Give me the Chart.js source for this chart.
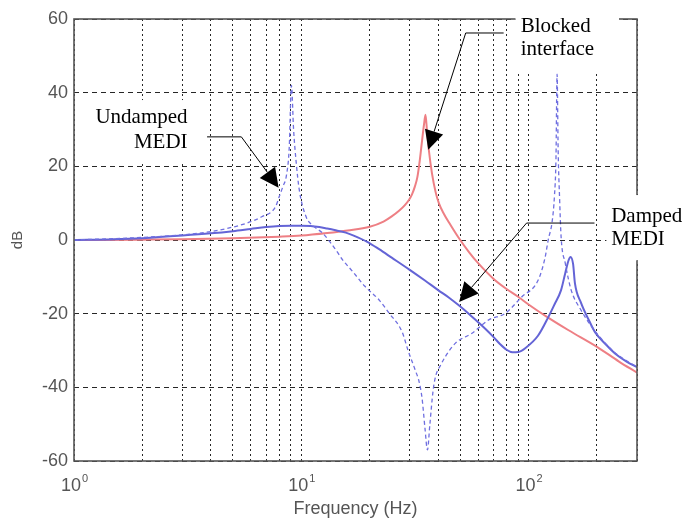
<!DOCTYPE html>
<html>
<head>
<meta charset="utf-8">
<script src="https://cdn.jsdelivr.net/npm/chart.js@4/dist/chart.umd.min.js"></script>
<style>
  html, body { margin: 0; padding: 0; background: #fff; }
  #wrap { width: 688px; height: 522px; }
</style>
</head>
<body>
<div id="wrap"><canvas id="chart" width="688" height="522"></canvas></div>
<script>
// ── Data (frequency in Hz, level in dB) ──
const blockedFreq = [1, 2, 3, 5, 8, 10, 13, 16, 20, 23, 25, 27, 28.5, 29.7, 30.7, 31.6, 32.4, 33.2, 34, 34.7, 35.2, 35.8, 36.4, 37.6, 39, 40.3, 42.5, 44.6, 49, 55, 60, 70, 80, 90, 100, 120, 150, 200, 250, 300];
const blockedDb   = [0, 0.1, 0.2, 0.5, 0.9, 1.2, 1.9, 2.6, 3.6, 5, 6.4, 8, 9.4, 10.8, 12.4, 14.5, 17, 21.5, 27, 31.5, 34, 29, 24.5, 18, 13, 10, 7, 4.8, 0.8, -3.5, -6.3, -10.5, -13.3, -15.4, -17.5, -20.8, -24.5, -29, -33, -36];

const dampedFreq = [1, 1.5, 2, 3, 4, 5, 6, 7, 8, 9, 10, 11, 12, 13, 14, 15.7, 17, 19.5, 22, 25, 30, 35, 40, 45, 49, 55, 60, 65, 70, 75, 80, 85, 90, 97, 110, 122, 130, 139, 145, 150, 153, 157, 160, 170, 185, 196, 220, 240, 270, 300];
const dampedDb   = [0, 0.2, 0.5, 1.2, 1.8, 2.4, 3, 3.5, 3.8, 3.9, 3.9, 3.8, 3.5, 3.1, 2.7, 2, 1.2, -0.5, -2.5, -4.8, -8.1, -11, -13.6, -15.8, -17.6, -20.2, -22.3, -24.3, -26.3, -28.3, -29.8, -30.5, -30.4, -29.3, -26, -21, -17.5, -13.6, -9, -5.5, -4.6, -6.5, -11.8, -17, -22, -25, -28.5, -30.8, -33, -34.5];

const undampedFreq = [1, 2, 3, 4, 5, 5.7, 6.7, 7.7, 8, 8.3, 8.6, 8.85, 9.05, 9.25, 9.5, 9.8, 10.5, 11.3, 12.4, 14.2, 15.2, 16.8, 19, 22, 24.3, 27.8, 29.5, 31.8, 33, 34, 35, 35.9, 36.8, 38, 39, 41, 43, 47.7, 56.4, 66.8, 79, 93.5, 110, 118, 122, 127, 130, 132, 133.5, 135, 137, 139, 145, 154, 170, 196, 240, 300];
const undampedDb   = [0, 0.7, 1.4, 2.3, 3.5, 4.5, 6.3, 9, 11.8, 14.5, 17.5, 25, 42, 30, 21, 13.6, 6.3, 3.8, 1.9, -2.7, -5.4, -8.5, -12.5, -16.3, -19.8, -25, -30, -35.5, -38.5, -43, -51, -57, -50, -41, -37, -34, -31.7, -28, -25.3, -21.7, -19.9, -15.4, -11, -5, 0, 5, 12, 22, 45, 24, 11, 1, -6.3, -13.6, -19, -24.7, -30.6, -34.5];

const freqTicks = [1, 2, 3, 4, 5, 6, 7, 8, 9, 10, 20, 30, 40, 50, 60, 70, 80, 90, 100, 200, 300];
const decadeTicks = [1, 10, 100];
const dbTicks = [-60, -40, -20, 0, 20, 40, 60];

// ── Annotations, placed in data coordinates (Hz, dB) ──
const notes = [
  {
    align: "right",
    lines: [["Undamped", 3.16, 31.8], ["MEDI", 3.16, 25.0]],
    box: [1.16, 38.0, 3.5, 21.2],
    path: [[3.85, 28.0], [5.45, 28.0], [7.95, 14.2]]
  },
  {
    align: "left",
    lines: [["Blocked", 92.3, 56.5], ["interface", 92.3, 50.2]],
    box: [87.6, 66.0, 250, 45.3],
    path: [[77.7, 56.2], [52.9, 56.2], [36.2, 24.5]]
  },
  {
    align: "left",
    lines: [["Damped", 231, 4.9], ["MEDI", 231, -1.4]],
    box: [220, 12.2, 600, -5.5],
    path: [[195, 4.6], [98, 4.6], [49.5, -16.8]]
  }
];

const toPts = (xs, ys) => xs.map((x, i) => ({ x, y: ys[i] }));

const axisFont = { family: "Arial, 'Liberation Sans', sans-serif", size: 18 };
const noteFont = "21px 'Liberation Serif', 'Times New Roman', serif";
const gridColor = "rgba(15,15,15,0.9)";

const overlay = {
  id: "overlay",
  afterDraw(chart) {
    const { ctx, chartArea: a } = chart;
    const xs = chart.scales.x, ys = chart.scales.y;
    const P = (f, db) => [xs.getPixelForValue(f), ys.getPixelForValue(db)];
    ctx.save();

    // axes box
    ctx.strokeStyle = "#555";
    ctx.lineWidth = 1.6;
    ctx.strokeRect(a.left, a.top, a.right - a.left, a.bottom - a.top);

    // decade tick labels 10^n
    ctx.fillStyle = "#555";
    ctx.textBaseline = "alphabetic";
    decadeTicks.forEach(v => {
      const cx = xs.getPixelForValue(v);
      const exp = String(Math.round(Math.log10(v)));
      ctx.font = "18px Arial, 'Liberation Sans', sans-serif";
      const wBase = ctx.measureText("10").width;
      ctx.font = "11px Arial, 'Liberation Sans', sans-serif";
      const wExp = ctx.measureText(exp).width;
      const x0 = cx - (wBase + wExp) / 2;
      ctx.font = "18px Arial, 'Liberation Sans', sans-serif";
      ctx.textAlign = "left";
      ctx.fillText("10", x0, a.bottom + 30);
      ctx.font = "11px Arial, 'Liberation Sans', sans-serif";
      ctx.fillText(exp, x0 + wBase + 1, a.bottom + 21);
    });

    // annotation boxes, leaders and arrows
    notes.forEach(n => {
      const [bx0, by0] = P(n.box[0], n.box[1]);
      const [bx1, by1] = P(n.box[2], n.box[3]);
      ctx.fillStyle = "#fff";
      ctx.fillRect(bx0, by0, bx1 - bx0, by1 - by0);

      ctx.fillStyle = "#000";
      ctx.font = noteFont;
      ctx.textAlign = n.align;
      n.lines.forEach(([t, f, db]) => {
        const [tx, ty] = P(f, db);
        ctx.fillText(t, tx, ty);
      });

      const pts = n.path.map(p => P(p[0], p[1]));
      const tip = pts[pts.length - 1];
      const prev = pts[pts.length - 2];
      const ang = Math.atan2(tip[1] - prev[1], tip[0] - prev[0]);
      const len = 19, half = 9.5;
      const bxm = tip[0] - len * Math.cos(ang), bym = tip[1] - len * Math.sin(ang);

      ctx.strokeStyle = "#000";
      ctx.lineWidth = 1;
      ctx.beginPath();
      ctx.moveTo(pts[0][0], pts[0][1]);
      for (let i = 1; i < pts.length - 1; i++) ctx.lineTo(pts[i][0], pts[i][1]);
      ctx.lineTo(bxm, bym);
      ctx.stroke();

      ctx.beginPath();
      ctx.moveTo(tip[0], tip[1]);
      ctx.lineTo(bxm + half * Math.sin(ang), bym - half * Math.cos(ang));
      ctx.lineTo(bxm - half * Math.sin(ang), bym + half * Math.cos(ang));
      ctx.closePath();
      ctx.fill();
    });

    ctx.restore();
  }
};

new Chart(document.getElementById("chart"), {
  type: "line",
  data: {
    datasets: [
      {
        label: "Undamped MEDI",
        data: toPts(undampedFreq, undampedDb),
        borderColor: "#6f6fe0",
        borderWidth: 1.3,
        borderDash: [4, 3]
      },
      {
        label: "Damped MEDI",
        data: toPts(dampedFreq, dampedDb),
        borderColor: "#6464d6",
        borderWidth: 2
      },
      {
        label: "Blocked interface",
        data: toPts(blockedFreq, blockedDb),
        borderColor: "#ee7f84",
        borderWidth: 2
      }
    ]
  },
  options: {
    responsive: false,
    animation: false,
    devicePixelRatio: 1,
    layout: { padding: { top: 19, right: 51, left: 0, bottom: 0 } },
    elements: {
      point: { radius: 0 },
      line: { cubicInterpolationMode: "monotone", fill: false }
    },
    plugins: { legend: { display: false }, tooltip: { enabled: false } },
    scales: {
      x: {
        type: "logarithmic",
        min: 1,
        max: 300,
        afterBuildTicks(scale) {
          scale.ticks = freqTicks.map(v => ({ value: v }));
        },
        afterFit(scale) { scale.height = 61; },
        ticks: { display: false, autoSkip: false },
        grid: { color: gridColor, lineWidth: 1, drawTicks: false },
        border: { display: false, dash: [2, 3] },
        title: {
          display: true,
          text: "Frequency (Hz)",
          color: "#555",
          font: axisFont,
          padding: { top: 0, bottom: 2 }
        }
      },
      y: {
        min: -60,
        max: 60,
        afterBuildTicks(scale) {
          scale.ticks = dbTicks.map(v => ({ value: v }));
        },
        afterFit(scale) { scale.width = 74; },
        ticks: { color: "#555", font: axisFont, padding: 6 },
        grid: { color: gridColor, lineWidth: 1, drawTicks: false },
        border: { display: false, dash: [5, 4] },
        title: {
          display: true,
          text: "dB",
          color: "#555",
          font: { family: "Arial, 'Liberation Sans', sans-serif", size: 15 },
          padding: { top: 9, bottom: 0 }
        }
      }
    }
  },
  plugins: [overlay]
});
</script>
</body>
</html>
